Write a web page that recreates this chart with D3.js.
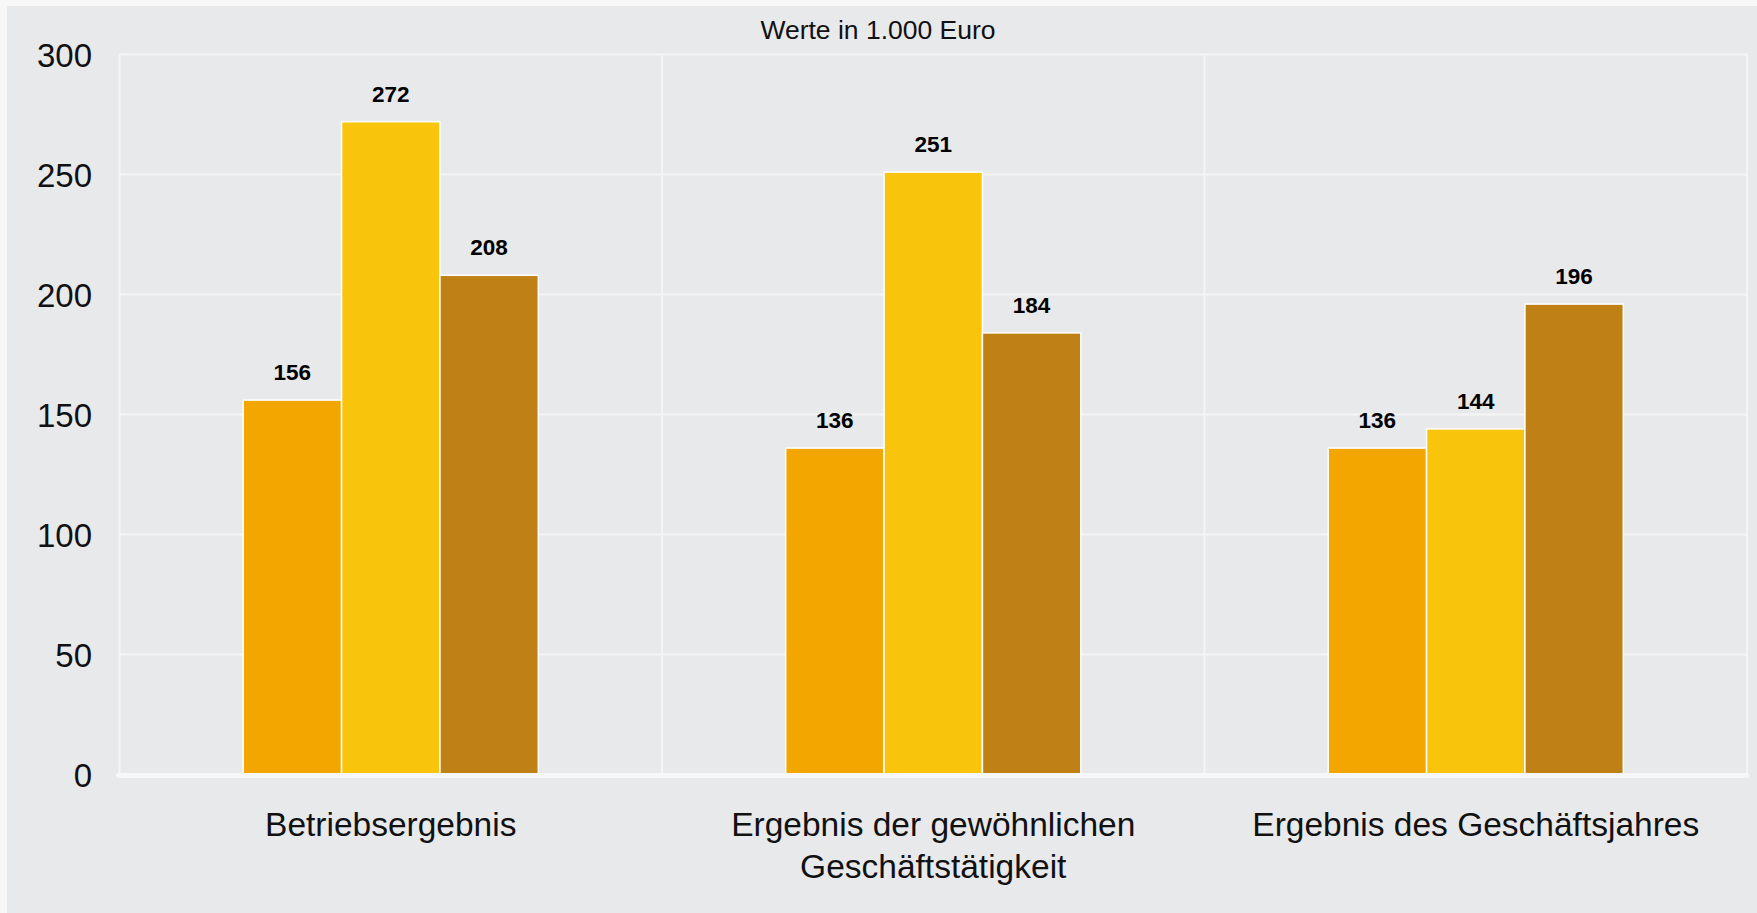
<!DOCTYPE html>
<html>
<head>
<meta charset="utf-8">
<script src="https://cdn.jsdelivr.net/npm/d3@7"></script>
<style>
  body { margin: 0; background: #f7f7f7; }
  svg { display: block; font-family: Arial, "Liberation Sans", sans-serif; }
</style>
</head>
<body>
<div id="chart"></div>
<script>
// data (values in 1.000 Euro)
var categories = [["Betriebsergebnis"], ["Ergebnis der gewöhnlichen", "Geschäftstätigkeit"], ["Ergebnis des Geschäftsjahres"]]
var series = ["s1", "s2", "s3"]
var values_s1 = [156, 136, 136]
var values_s2 = [272, 251, 144]
var values_s3 = [208, 184, 196]
var yTicks = [0, 50, 100, 150, 200, 250, 300]
var colors = ["#f3a600", "#f9c40c", "#bf8016"]

const W = 1757, H = 913
const PLOT = { LEFT: 119.5, RIGHT: 1747, TOP: 54.5, BOTTOM: 774.5 }

var rows = categories.map((c, i) => ({ label: c, vals: [values_s1[i], values_s2[i], values_s3[i]] }))

const svg = d3.select("#chart").append("svg")
    .attr("width", W)
    .attr("height", H)

// panel background
svg.append("rect")
    .attr("x", 7).attr("y", 6)
    .attr("width", W - 7).attr("height", H - 6)
    .attr("fill", "#e8e9eb")

var xScale = d3.scaleBand()
    .domain(d3.range(categories.length))
    .range([PLOT.LEFT, PLOT.RIGHT])
    .padding(0)
var groupW = xScale.bandwidth() * 0.544
var xInner = d3.scaleBand()
    .domain(series)
    .range([(xScale.bandwidth() - groupW) / 2, (xScale.bandwidth() + groupW) / 2])
    .padding(0)
var yScale = d3.scaleLinear()
    .domain([0, 300])
    .range([PLOT.BOTTOM, PLOT.TOP])

// horizontal grid
svg.append("g").selectAll("line")
    .data(yTicks.filter(d => d > 0))
    .enter().append("line")
    .attr("x1", PLOT.LEFT).attr("x2", PLOT.RIGHT)
    .attr("y1", d => yScale(d)).attr("y2", d => yScale(d))
    .attr("stroke", "#f5f5f6")
    .attr("stroke-width", 2)

// vertical grid (category borders)
var borders = d3.range(categories.length).map(i => xScale(i)).concat([PLOT.RIGHT])
svg.append("g").selectAll("line")
    .data(borders)
    .enter().append("line")
    .attr("x1", d => d).attr("x2", d => d)
    .attr("y1", PLOT.TOP).attr("y2", PLOT.BOTTOM)
    .attr("stroke", "#f5f5f6")
    .attr("stroke-width", 2)

// y tick labels
svg.append("g").selectAll("text")
    .data(yTicks)
    .enter().append("text")
    .attr("x", 92)
    .attr("y", d => yScale(d) + 12)
    .attr("text-anchor", "end")
    .style("font-size", "33px")
    .attr("fill", "#111")
    .text(d => d)

// bars
var groups = svg.append("g").selectAll("g")
    .data(rows)
    .enter().append("g")
    .attr("transform", (d, i) => "translate(" + xScale(i) + ",0)")

groups.selectAll("rect")
    .data(d => d.vals.map((v, j) => ({ key: series[j], v: v, j: j })))
    .enter().append("rect")
    .attr("x", d => xInner(d.key))
    .attr("y", d => yScale(d.v))
    .attr("width", xInner.bandwidth())
    .attr("height", d => yScale(0) - yScale(d.v))
    .attr("fill", d => colors[d.j])
    .attr("stroke", "#ffffff")
    .attr("stroke-width", 1.5)

groups.selectAll("text.val")
    .data(d => d.vals.map((v, j) => ({ key: series[j], v: v })))
    .enter().append("text")
    .attr("class", "val")
    .attr("x", d => xInner(d.key) + xInner.bandwidth() / 2)
    .attr("y", d => yScale(d.v) - 20)
    .attr("text-anchor", "middle")
    .style("font-size", "22.5px")
    .style("font-weight", "bold")
    .attr("fill", "#000")
    .text(d => d.v)

// thick base line
svg.append("line")
    .attr("x1", PLOT.LEFT - 1).attr("x2", PLOT.RIGHT)
    .attr("y1", PLOT.BOTTOM + 1).attr("y2", PLOT.BOTTOM + 1)
    .attr("stroke", "#f7f7f7")
    .attr("stroke-width", 5)
    .attr("stroke-linecap", "round")

// category labels
var catLabels = svg.append("g").selectAll("text")
    .data(rows)
    .enter().append("text")
    .attr("text-anchor", "middle")
    .style("font-size", "33.5px")
    .attr("fill", "#111")
catLabels.selectAll("tspan")
    .data((d, i) => d.label.map(l => ({ l: l, i: i })))
    .enter().append("tspan")
    .attr("x", d => xScale(d.i) + xScale.bandwidth() / 2)
    .attr("y", (d, k) => 836 + k * 42)
    .text(d => d.l)

// title
svg.append("text")
    .attr("x", 878)
    .attr("y", 39)
    .attr("text-anchor", "middle")
    .style("font-size", "26.5px")
    .attr("fill", "#111")
    .text("Werte in 1.000 Euro")
</script>
</body>
</html>
